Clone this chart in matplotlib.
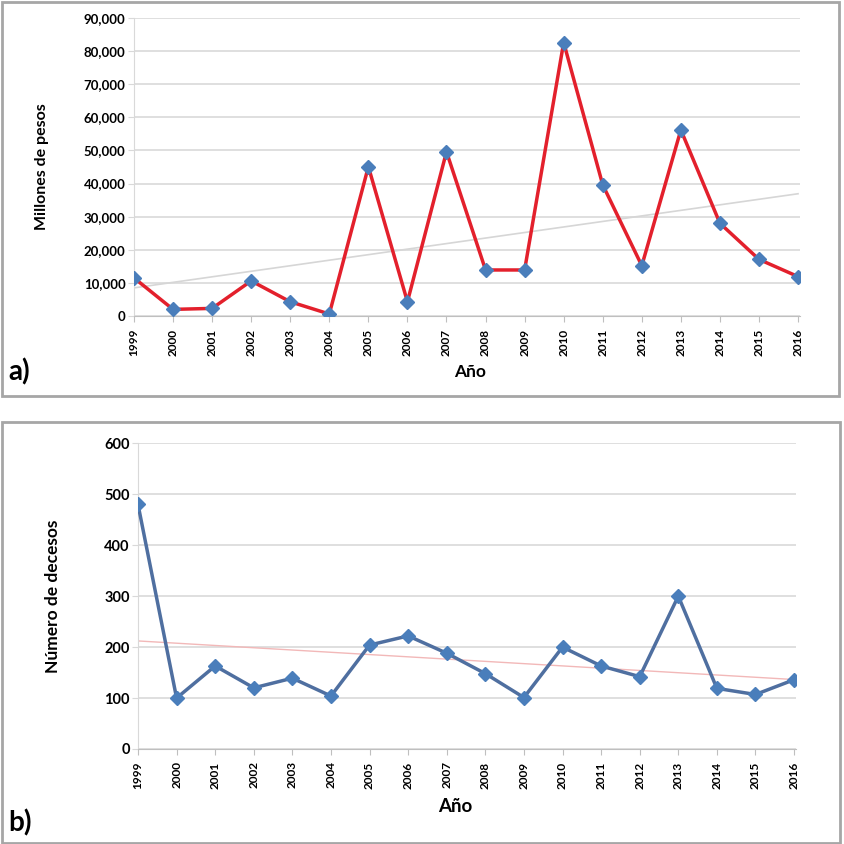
import numpy as np
import matplotlib.pyplot as plt
from matplotlib.patches import Rectangle
from matplotlib.ticker import FuncFormatter

plt.rcParams['font.family'] = ['Lato', 'DejaVu Sans']

# Datos
years = list(range(1999, 2017))
pesos = [11500, 2000, 2300, 10600, 4300, 600, 45100, 4300, 49600, 13900,
         13900, 82600, 39600, 15200, 56200, 28000, 17100, 11900]
decesos = [480, 100, 163, 120, 139, 104, 204, 222, 188, 148,
           101, 200, 163, 142, 300, 119, 107, 136]

W, H = 845, 844
fig = plt.figure(figsize=(W / 100, H / 100), dpi=100)

# marcos de cada panel
for (x0, y0, x1, y1) in [(2, 2, 839, 396), (2, 422, 840, 843)]:
    fig.patches.append(Rectangle((x0 / W, 1 - y1 / H), (x1 - x0) / W, (y1 - y0) / H,
                                 transform=fig.transFigure, fill=False,
                                 edgecolor="#a6a6a6", linewidth=2))

grid_c = "#d9d9d9"
marker_c = "#4a7ebb"


def style_axes(ax, ysize):
    ax.set_xlim(1999, 2016.05)
    ax.set_xticks(years)
    ax.set_xticklabels([str(y) for y in years], rotation=90, fontsize=8.5, fontweight="bold")
    ax.yaxis.grid(True, color=grid_c, linewidth=1.2)
    ax.set_axisbelow(True)
    for s in ["top", "right"]:
        ax.spines[s].set_visible(False)
    ax.spines["left"].set_color(grid_c)
    ax.spines["bottom"].set_color("#bfbfbf")
    ax.tick_params(axis="y", length=4, color=grid_c, labelsize=ysize, pad=2)
    ax.tick_params(axis="x", length=4, color="#bfbfbf", pad=5)
    for lb in ax.get_yticklabels():
        lb.set_fontweight("bold")


# a) Millones de pesos
ax1 = fig.add_axes([134 / W, 1 - 316 / H, (800 - 134) / W, (316 - 18) / H])
coef = np.polyfit(years, pesos, 1)
ax1.plot(years, np.polyval(coef, years), color="#d6d6d6", linewidth=1.2, zorder=2)
ax1.plot(years, pesos, color="#e3202c", linewidth=2.5, zorder=3,
         marker="D", markersize=7.5, markerfacecolor=marker_c, markeredgecolor=marker_c)
ax1.set_ylim(0, 90000)
ax1.set_yticks(range(0, 90001, 10000))
ax1.yaxis.set_major_formatter(FuncFormatter(lambda v, p: f"{int(v):,}"))
style_axes(ax1, 9.5)
ax1.set_ylabel("Millones de pesos", fontsize=11.5, fontweight="bold")
ax1.yaxis.set_label_coords(-0.127, 0.5)
fig.text(470 / W, 1 - 372 / H, "Año", ha="center", va="center", fontsize=12.5, fontweight="bold")
fig.text(8 / W, 1 - 372 / H, "a)", ha="left", va="center", fontsize=20, fontweight="bold")

# b) Número de decesos
ax2 = fig.add_axes([138 / W, 1 - 749 / H, (796 - 138) / W, (749 - 443.3) / H])
coef2 = np.polyfit(years, decesos, 1)
ax2.plot(years, np.polyval(coef2, years), color="#f2b8b8", linewidth=1.0, zorder=2)
ax2.plot(years, decesos, color="#4f6fa0", linewidth=2.5, zorder=3,
         marker="D", markersize=7.5, markerfacecolor=marker_c, markeredgecolor=marker_c)
ax2.set_ylim(0, 600)
ax2.set_yticks(range(0, 601, 100))
style_axes(ax2, 10.5)
ax2.set_ylabel("Número de decesos", fontsize=12.5, fontweight="bold")
ax2.yaxis.set_label_coords(-0.117, 0.5)
fig.text(455 / W, 1 - 806 / H, "Año", ha="center", va="center", fontsize=13.5, fontweight="bold")
fig.text(8 / W, 1 - 823 / H, "b)", ha="left", va="center", fontsize=20, fontweight="bold")

fig.savefig("out.png", dpi=100)
